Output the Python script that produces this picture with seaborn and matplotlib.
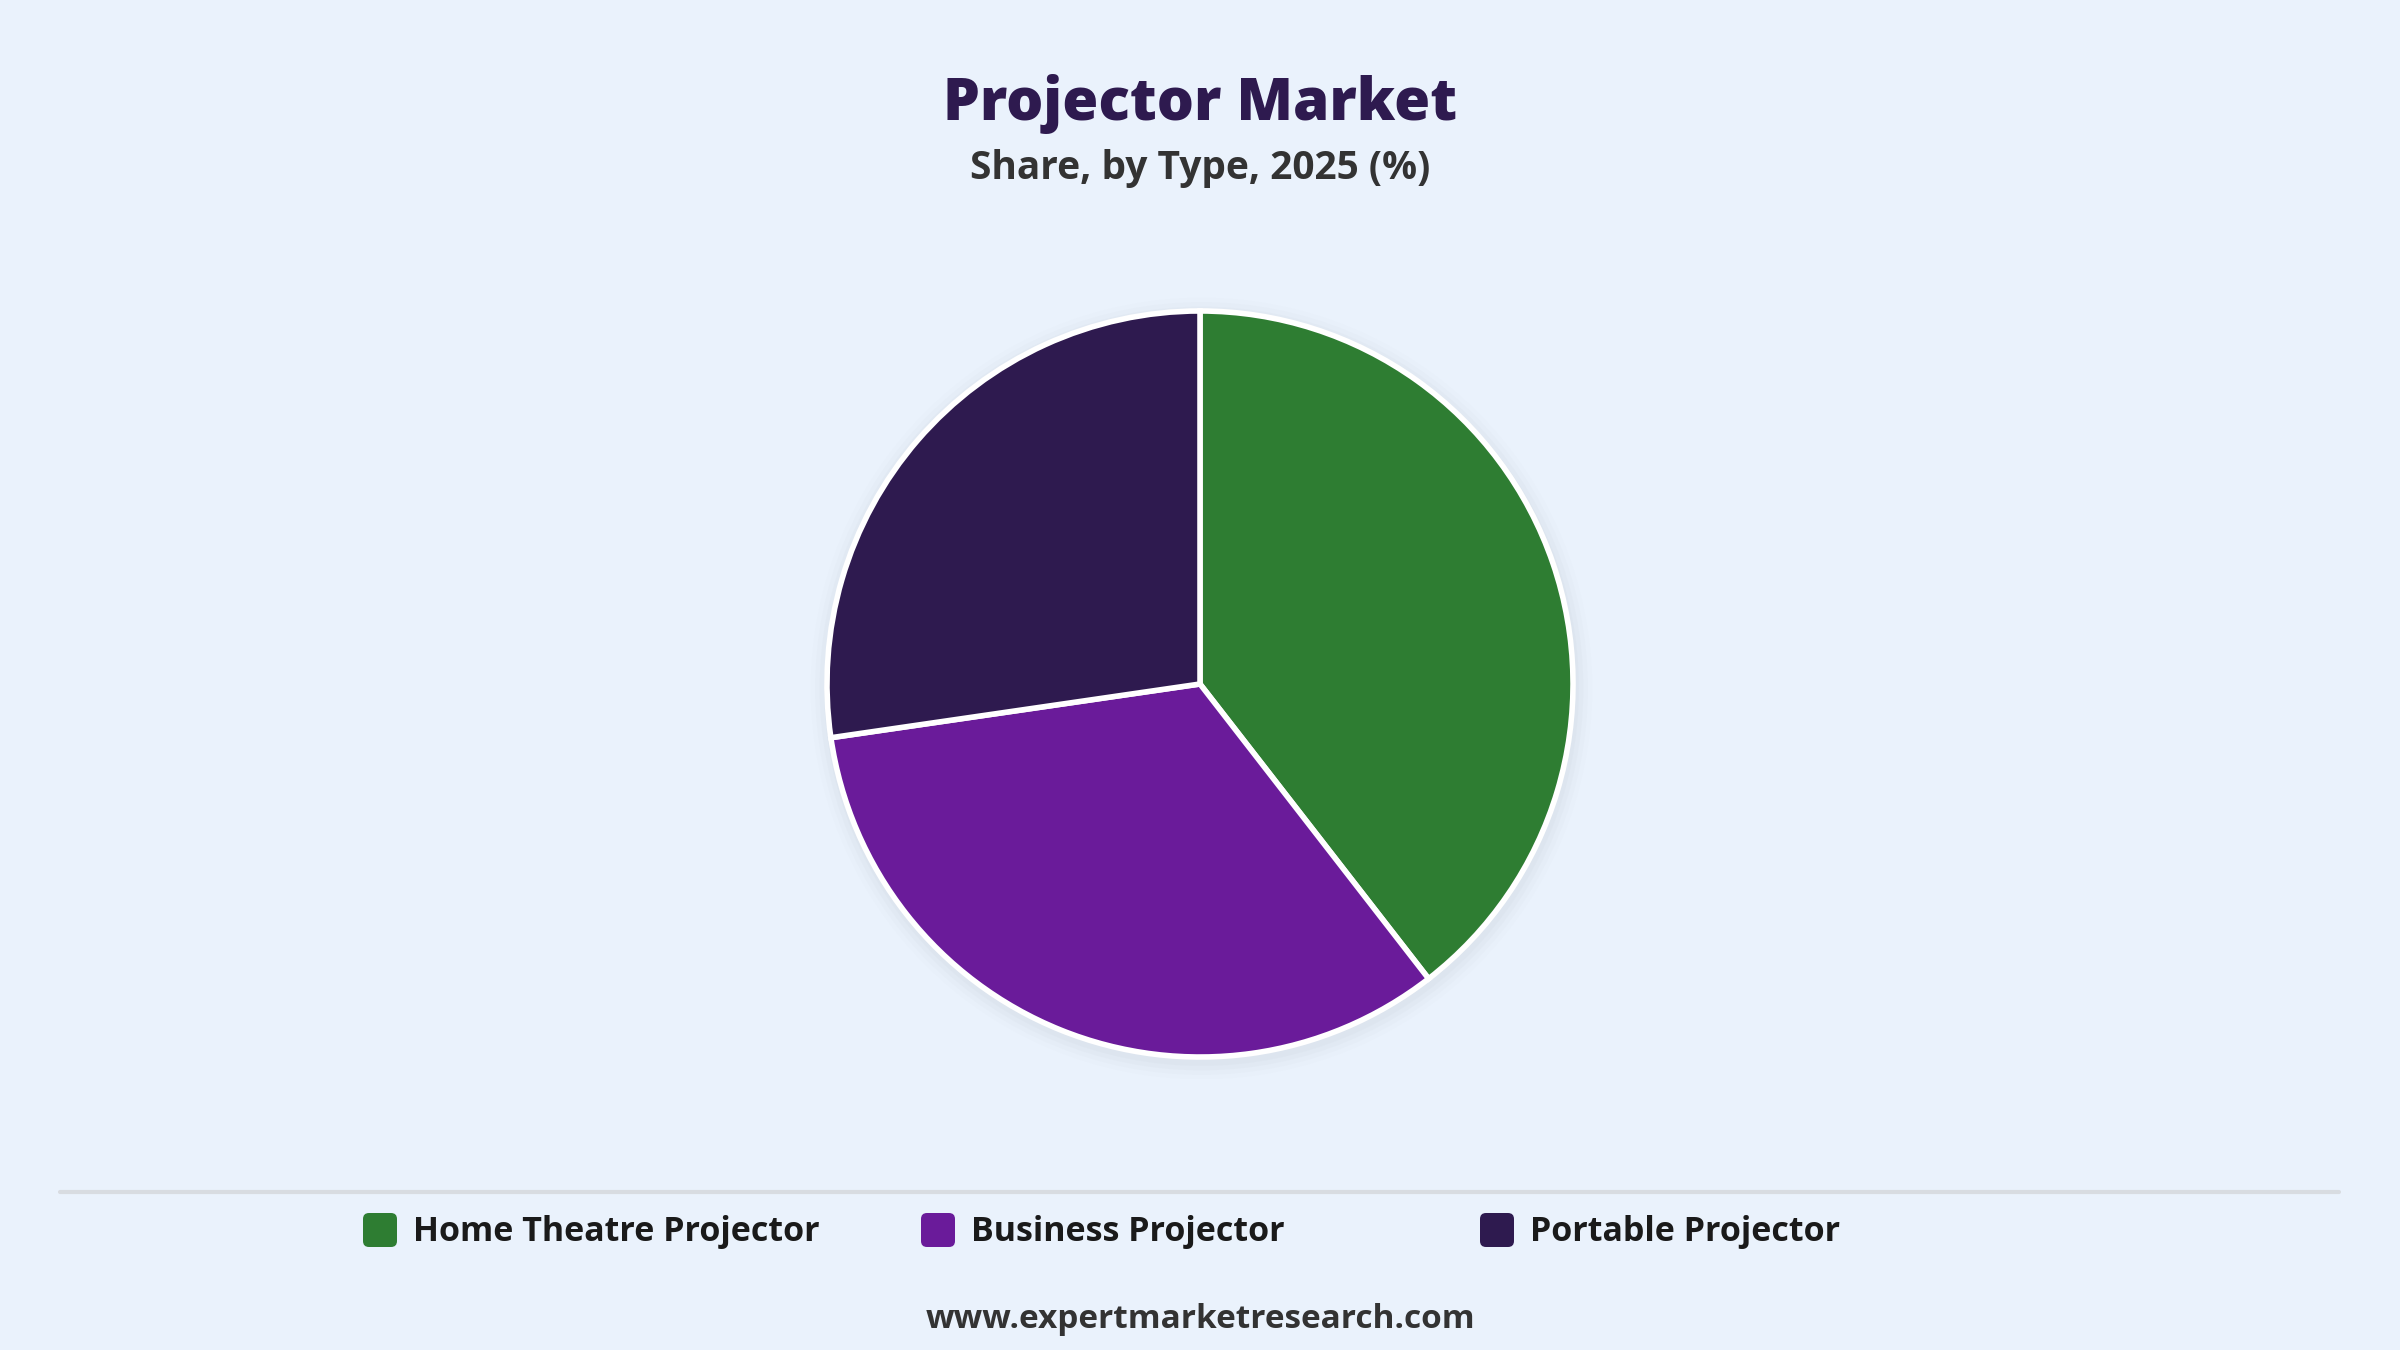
import matplotlib
matplotlib.use("Agg")
import matplotlib.pyplot as plt
import matplotlib.patches as mpatches
from matplotlib.lines import Line2D
import seaborn as sns

# data
categories = ["Home Theatre Projector", "Business Projector", "Portable Projector"]
shares = [39.5, 33.2, 27.3]
colors = ["#2E7D32", "#6A1B9A", "#2E1A4F"]

title = "Projector Market"
subtitle = "Share, by Type, 2025 (%)"
footer = "www.expertmarketresearch.com"

bg = "#EAF2FC"

sns.set_theme(style="white")
plt.rcParams["font.family"] = ["Open Sans", "DejaVu Sans"]

fig = plt.figure(figsize=(24, 13.5), dpi=100, facecolor=bg)

# pie axes: centre ~ (1200, 684) px, radius ~373 px
r_px = 373
cx, cy = 1200, 1350 - 684
ax = fig.add_axes([(cx - r_px * 1.06) / 2400, (cy - r_px * 1.06) / 1350,
                   2 * r_px * 1.06 / 2400, 2 * r_px * 1.06 / 1350])
ax.set_facecolor(bg)

# soft shadow behind the pie
for i, a in enumerate([0.05, 0.04, 0.03, 0.02]):
    ax.add_patch(mpatches.Circle((0.004, -0.012), 1.0 + 0.012 * (i + 1), color="#9aa3ad",
                                 alpha=a, lw=0, zorder=0))

wedges, _ = ax.pie(shares, colors=sns.color_palette(colors), startangle=90, counterclock=False,
                   wedgeprops=dict(edgecolor="white", linewidth=4), radius=1.0)
for w in wedges:
    w.set_zorder(2)
ax.set_xlim(-1.06, 1.06)
ax.set_ylim(-1.06, 1.06)
ax.set_aspect("equal")
ax.axis("off")

# titles
fig.text(0.5, 1 - 104 / 1350, title, ha="center", va="center", fontsize=42,
         fontweight="heavy", color="#2E1A4F")
fig.text(0.5, 1 - 168 / 1350, subtitle, ha="center", va="center", fontsize=28,
         fontweight="bold", color="#333333")

# separator line
fig.add_artist(Line2D([60 / 2400, 2339 / 2400], [1 - 1192 / 1350] * 2,
                      transform=fig.transFigure, color="#D8DCE1", lw=3))

# legend
leg_x = [380, 938, 1497]
leg_y = 1350 - 1230
sq = 34
for x, label, c in zip(leg_x, categories, colors):
    fig.add_artist(mpatches.FancyBboxPatch(((x - sq / 2) / 100, (leg_y - sq / 2) / 100), sq / 100, sq / 100,
                                           boxstyle="round,pad=0,rounding_size=0.06",
                                           transform=fig.dpi_scale_trans, facecolor=c, edgecolor="none"))
    fig.text((x + 33) / 2400, (leg_y - 2) / 1350, label, ha="left", va="center", fontsize=24.5,
             fontweight="bold", color="#1a1a1a")

fig.text(0.5, 1 - 1319 / 1350, footer, ha="center", va="center", fontsize=24,
         fontweight="bold", color="#333333")

fig.savefig("out.png", dpi=100, facecolor=bg)
